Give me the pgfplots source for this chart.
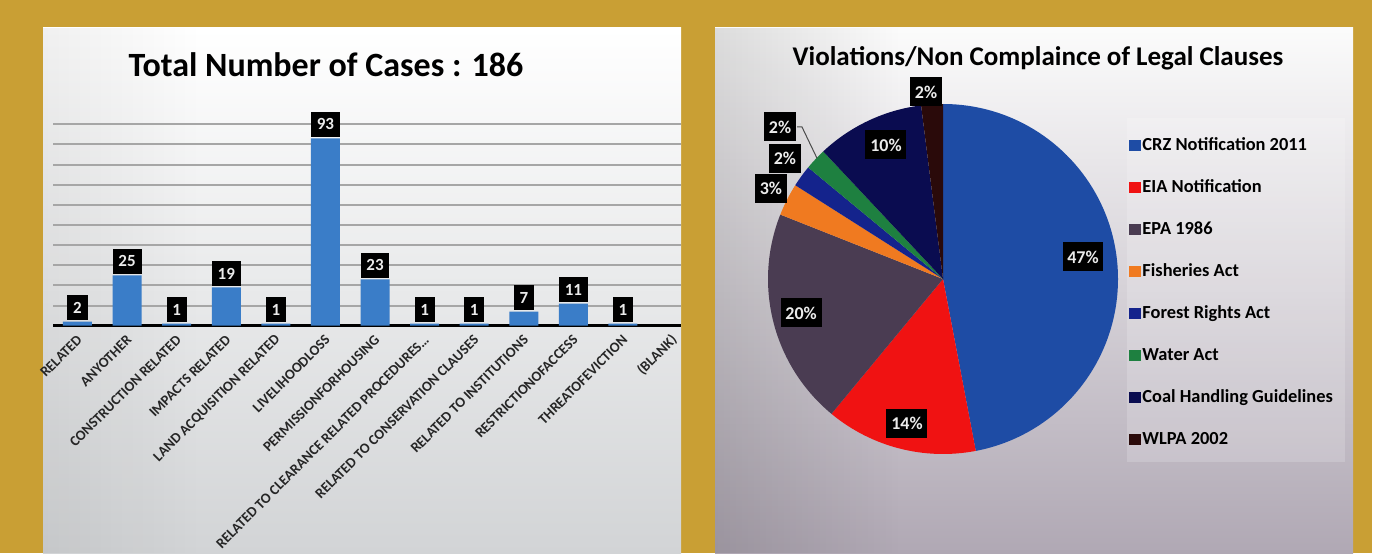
\documentclass[border=0pt]{standalone}
\usepackage{fontspec}
\setmainfont{Carlito}
\usepackage{pgfplots}
\pgfplotsset{compat=1.18}
\usetikzlibrary{fadings}
\definecolor{gold}{RGB}{201,159,52}
\definecolor{barblue}{RGB}{58,125,200}
\definecolor{crz}{RGB}{30,76,165}
\definecolor{eia}{RGB}{240,18,18}
\definecolor{epa}{RGB}{74,60,82}
\definecolor{fish}{RGB}{240,122,32}
\definecolor{forest}{RGB}{20,35,140}
\definecolor{water}{RGB}{30,128,64}
\definecolor{coal}{RGB}{10,12,80}
\definecolor{wlpa}{RGB}{42,10,10}
\definecolor{rpanel}{RGB}{176,168,180}
\definecolor{lpanel}{RGB}{210,212,214}
\newcommand\pieslice[3]{\fill[#3] (axis cs:0,0) -- (axis cs:{cos(90-3.6*#1)},{sin(90-3.6*#1)}) arc[start angle={90-3.6*#1}, end angle={90-3.6*#2}, radius=87.5pt] -- cycle;}
\tikzset{pielab/.style={fill=black, text=white!92!black, font=\bfseries\fontsize{9}{10}\selectfont, inner xsep=2.4pt, inner ysep=0pt, minimum height=14.5pt}}
\begin{document}
\begin{tikzpicture}[x=0.5pt,y=0.5pt]
\useasboundingbox (0,0) rectangle (1397,553);
\fill[gold] (0,0) rectangle (1372,553);
\fill[white] (1372,0) rectangle (1397,553);
\shade[top color=white, bottom color=lpanel] (43,0) rectangle (681,525);
\fill[black, path fading=east, opacity=0.06] (43,0) rectangle (200,525);
\shade[top color=white!97!gray, bottom color=rpanel] (715,0) rectangle (1353,525);
\fill[black, path fading=east, opacity=0.12] (715,0) rectangle (900,525);
\fill[white, opacity=0.18] (1127,91) rectangle (1345,435);
\node[font=\bfseries\fontsize{17}{20}\selectfont] at (326,488) {Total Number of Cases : 186};
\node[font=\bfseries\fontsize{13.5}{16}\selectfont] at (1038,495) {Violations/Non Complaince of Legal Clauses};

\begin{axis}[
  at={(26.5pt,113.65pt)}, anchor=south west,
  scale only axis, width=314pt, height=100.75pt,
  xmin=-0.494, xmax=12.17, ymin=0, ymax=100,
  ybar, bar width=14.5pt,
  /pgf/number format/assume math mode=true,
  axis x line*=bottom, axis y line*=left,
  x axis line style={black, line width=1.6pt, -},
  y axis line style={draw=none},
  ymajorgrids, ytick={10,20,...,100}, yticklabels={},
  grid style={black!35, line width=1pt},
  xtick={0,1,2,3,4,5,6,7,8,9,10,11,12},
  xticklabels={RELATED, ANYOTHER, CONSTRUCTION RELATED, IMPACTS RELATED, LAND ACQUISITION RELATED, LIVELIHOODLOSS, PERMISSIONFORHOUSING, {RELATED TO CLEARANCE RELATED PROCEDURES…}, RELATED TO CONSERVATION CLAUSES, RELATED TO INSTITUTIONS, RESTRICTIONOFACCESS, THREATOFEVICTION, (BLANK)},
  major tick length=0pt,
  xticklabel style={xshift=3.5pt, yshift=-3.5pt, rotate=45, anchor=east, font=\bfseries\fontsize{7.2}{8}\selectfont, text=black!85},
  nodes near coords,
  nodes near coords style={fill=black, text=white!92!black, font=\bfseries\fontsize{8.5}{10}\selectfont, inner xsep=2.9pt, inner ysep=0pt, minimum height=12.5pt, anchor=south, yshift=0.5pt},
  clip=false
]
\addplot[fill=barblue, draw=none] coordinates {(0,2) (1,25) (2,1) (3,19) (4,1) (5,93) (6,23) (7,1) (8,1) (9,7) (10,11) (11,1)};
\end{axis}

\begin{axis}[
  at={(384pt,49.5pt)}, anchor=south west,
  scale only axis, width=175pt, height=175pt,
  xmin=-1, xmax=1, ymin=-1, ymax=1, hide axis, clip=false,
  legend image code/.code={\fill[#1] (0pt,-2.6pt) rectangle (5.2pt,2.6pt);},
  legend cell align=left,
  legend style={at={(axis description cs:1.031,0.914)}, anchor=north west, draw=none, fill=none, inner sep=0pt,
    font=\bfseries\fontsize{9.2}{11}\selectfont, row sep=10.2pt,
    nodes={text height=6.8pt, text depth=2pt, inner ysep=1pt, inner xsep=1pt},
    /tikz/every even column/.append style={column sep=0pt}}
]
\addlegendimage{crz}\addlegendentry{CRZ Notification 2011}
\addlegendimage{eia}\addlegendentry{EIA Notification}
\addlegendimage{epa}\addlegendentry{EPA 1986}
\addlegendimage{fish}\addlegendentry{Fisheries Act}
\addlegendimage{forest}\addlegendentry{Forest Rights Act}
\addlegendimage{water}\addlegendentry{Water Act}
\addlegendimage{coal}\addlegendentry{Coal Handling Guidelines}
\addlegendimage{wlpa}\addlegendentry{WLPA 2002}
\pieslice{0}{47}{crz}
\pieslice{47}{61}{eia}
\pieslice{61}{81}{epa}
\pieslice{81}{84}{fish}
\pieslice{84}{86}{forest}
\pieslice{86}{88}{water}
\pieslice{88}{98}{coal}
\pieslice{98}{100}{wlpa}
\draw[black!70, line width=0.5pt] (axis cs:-0.834,0.869) -- (axis cs:-0.806,0.869) -- (axis cs:-0.72,0.69);
\node[pielab] at (axis cs:0.80,0.126) {47\%};
\node[pielab] at (axis cs:-0.206,-0.823) {14\%};
\node[pielab] at (axis cs:-0.811,-0.194) {20\%};
\node[pielab] at (axis cs:-0.326,0.766) {10\%};
\node[pielab] at (axis cs:-0.983,0.52) {3\%};
\node[pielab] at (axis cs:-0.903,0.691) {2\%};
\node[pielab] at (axis cs:-0.931,0.869) {2\%};
\node[pielab] at (axis cs:-0.097,1.069) {2\%};
\end{axis}
\end{tikzpicture}
\end{document}
